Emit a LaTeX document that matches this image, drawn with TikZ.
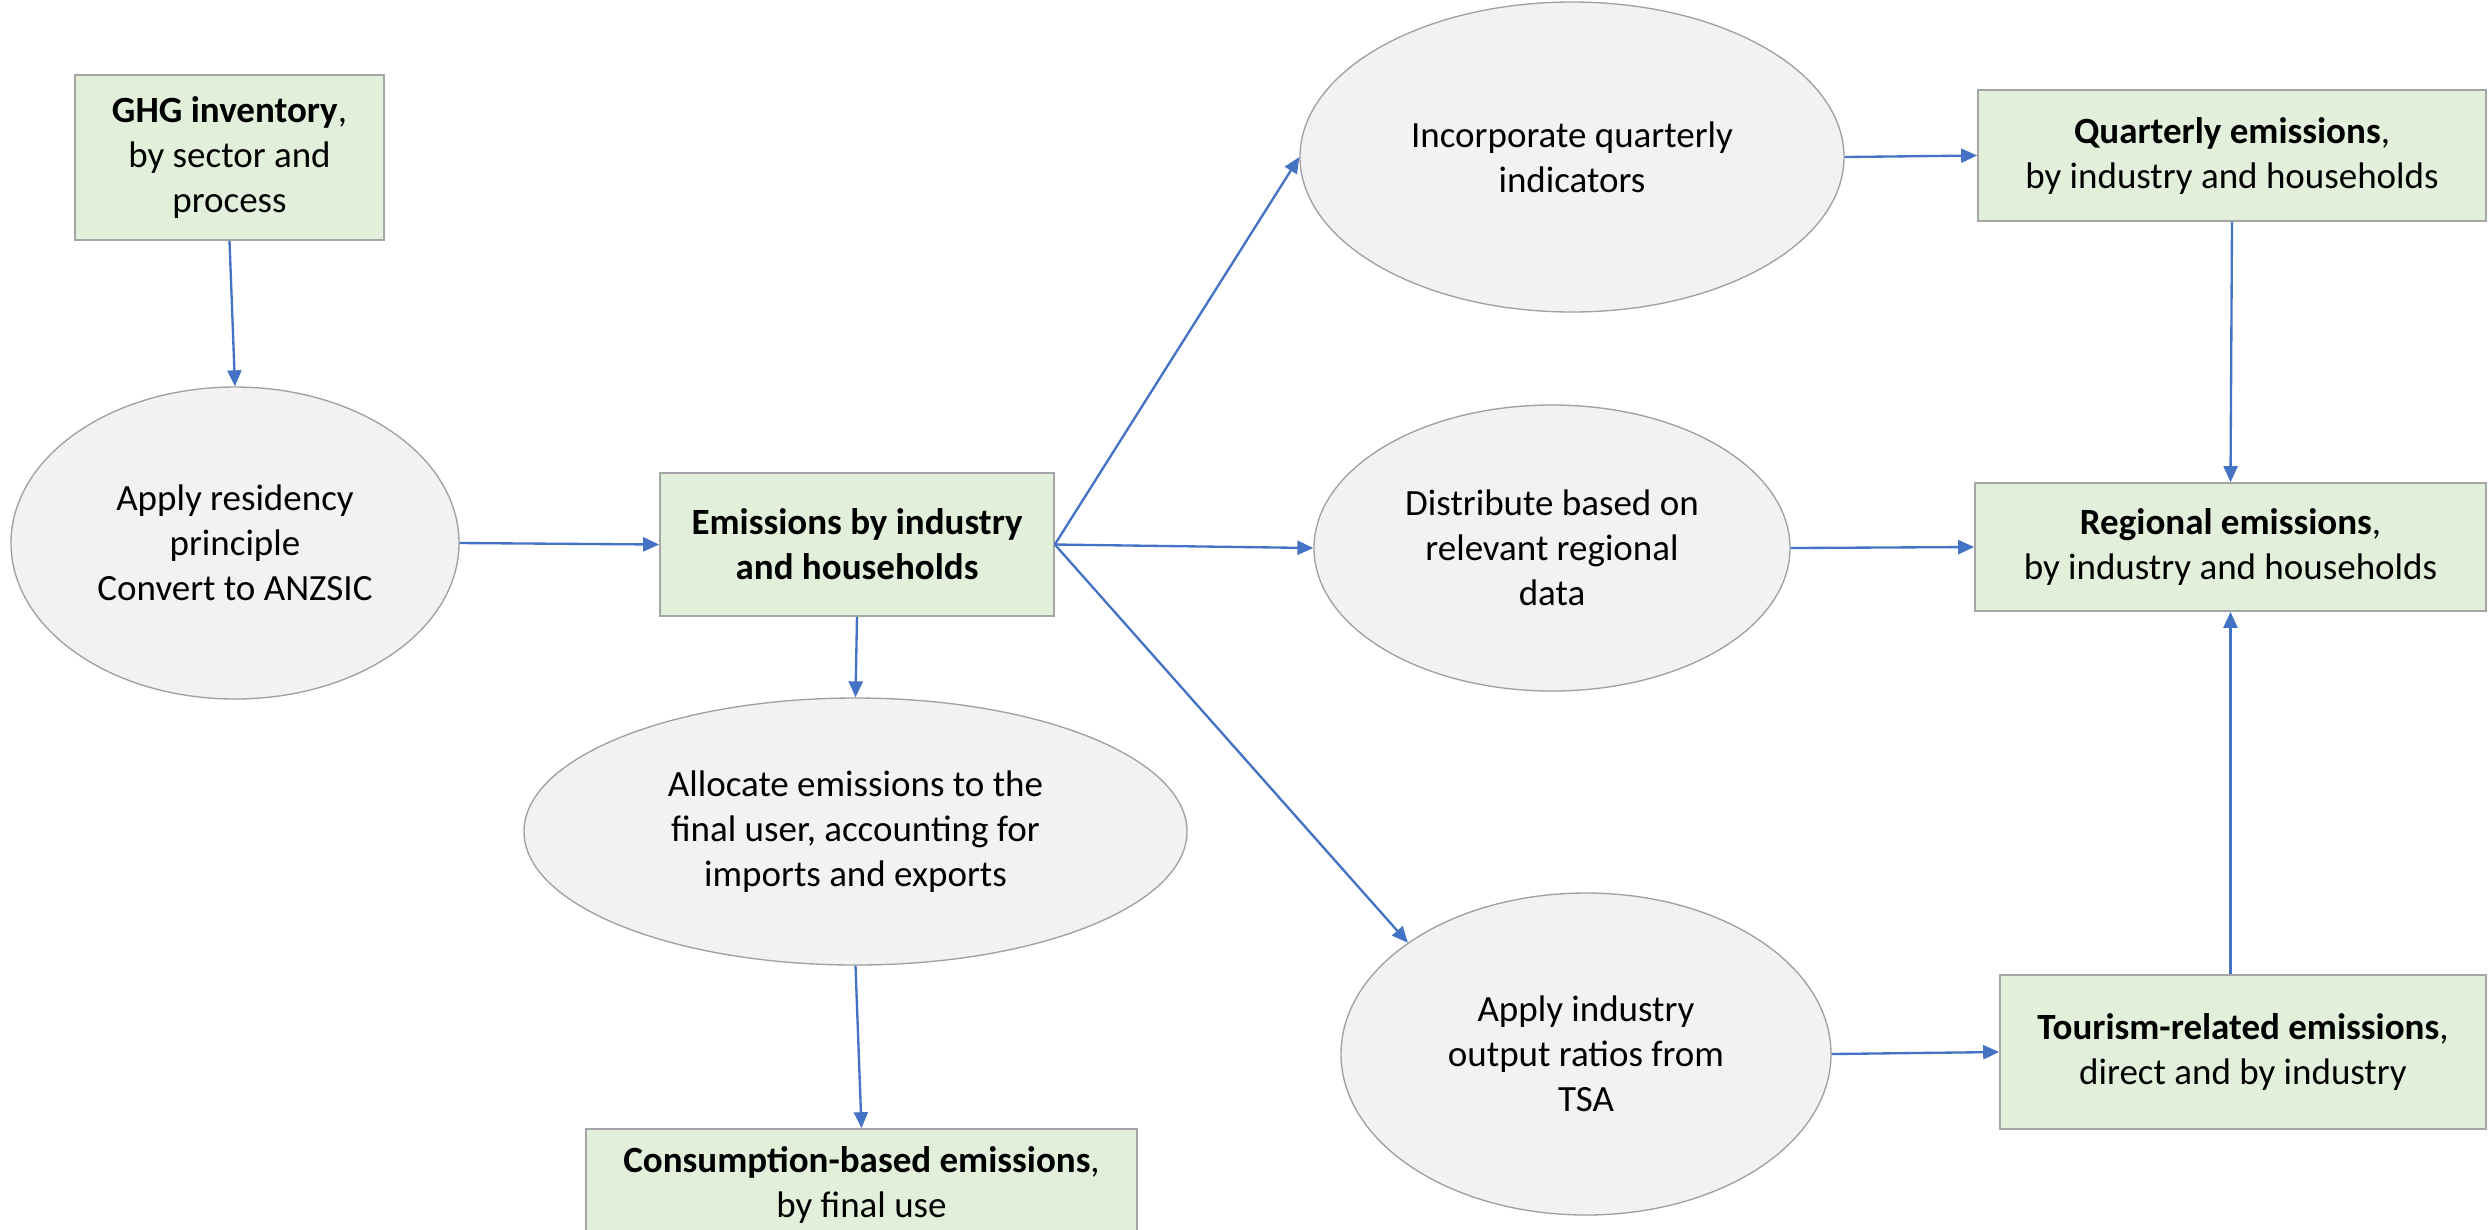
\documentclass[tikz,border=0pt]{standalone}
\usepackage{fontspec}
\setmainfont{Carlito}
\usetikzlibrary{shapes.geometric,arrows.meta,calc}
\definecolor{boxfill}{HTML}{E2EFDA}
\definecolor{boxline}{HTML}{A5A5A5}
\definecolor{ellfill}{HTML}{F2F2F2}
\definecolor{ellline}{HTML}{A0A0A0}
\definecolor{arrowblue}{HTML}{4472C4}
\tikzset{
  greenbox/.style={rectangle, draw=boxline, fill=boxfill, line width=0.5pt, align=center, inner sep=0pt,
    font=\fontsize{11.1}{13.5}\selectfont},
  grayell/.style={ellipse, draw=ellline, fill=ellfill, line width=0.4pt, align=center, inner sep=0pt,
    font=\fontsize{11.1}{13.5}\selectfont},
  flow/.style={draw=arrowblue, line width=0.7pt, -{Triangle[length=4.8pt,width=4.2pt]}}
}
\begin{document}
\begin{tikzpicture}[x=0.3pt,y=-0.3pt]
\path[use as bounding box, fill=white] (0,0) rectangle (2489,1229);
\clip (0,0) rectangle (2489,1229);

% boxes
\node[greenbox, minimum width=92.7pt, minimum height=49.5pt] (ghg) at (229.5,157.5)
  {\textbf{GHG inventory},\\by sector and\\process};
\node[greenbox, minimum width=118.2pt, minimum height=42.9pt] (emis) at (857,544.5)
  {\textbf{Emissions by industry}\\\textbf{and households}};
\node[greenbox, minimum width=165.3pt, minimum height=33.3pt] (cons) at (861.5,1184.5)
  {\textbf{Consumption-based emissions},\\by final use};
\node[greenbox, minimum width=152.4pt, minimum height=39.3pt] (quar) at (2232,155.5)
  {\textbf{Quarterly emissions},\\by industry and households};
\node[greenbox, minimum width=153.3pt, minimum height=38.4pt] (reg) at (2230.5,547)
  {\textbf{Regional emissions},\\by industry and households};
\node[greenbox, minimum width=145.8pt, minimum height=46.2pt] (tour) at (2243,1052)
  {\textbf{Tourism-related emissions},\\direct and by industry};

% ellipses
\node[grayell, minimum width=134.4pt, minimum height=93.6pt] (res) at (235,543)
  {Apply residency\\principle\\Convert to ANZSIC};
\node[grayell, minimum width=198.9pt, minimum height=80.1pt] (alloc) at (855.5,831.5)
  {Allocate emissions to the\\final user, accounting for\\imports and exports};
\node[grayell, minimum width=163.2pt, minimum height=93pt] (inc) at (1572,157)
  {Incorporate quarterly\\indicators};
\node[grayell, minimum width=142.8pt, minimum height=85.8pt] (dist) at (1552,548)
  {Distribute based on\\relevant regional\\data};
\node[grayell, minimum width=147pt, minimum height=96.6pt] (apply) at (1586,1054)
  {Apply industry\\output ratios from\\TSA};

% connectors
\draw[flow] (ghg.south) -- (res.north);
\draw[flow] (res.east) -- (emis.west);
\draw[flow] (emis.south) -- (alloc.north);
\draw[flow] (alloc.south) -- (cons.north);
\draw[flow] (emis.east) -- (inc.west);
\draw[flow] (emis.east) -- (dist.west);
\draw[flow] (emis.east) -- (apply.148);
\draw[flow] (inc.east) -- (quar.west);
\draw[flow] (dist.east) -- (reg.west);
\draw[flow] (apply.east) -- (tour.west);
\draw[flow] (quar.south) -- (reg.north);
\draw[flow] (reg.south |- tour.north) -- (reg.south);
\end{tikzpicture}
\end{document}
